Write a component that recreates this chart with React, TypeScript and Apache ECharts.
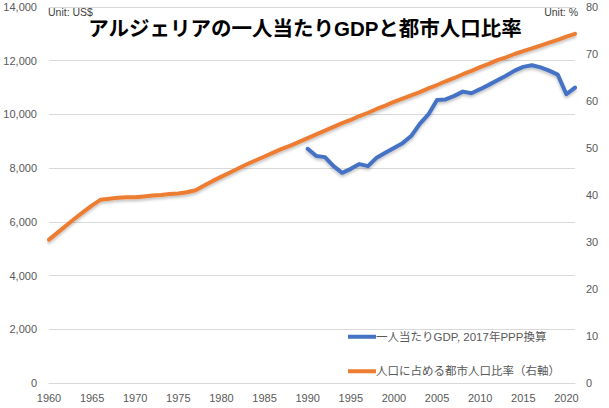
import React, { useEffect, useRef } from "react";
import * as echarts from "echarts";

const years: string[] = [];
for (let y = 1960; y <= 2021; y++) years.push(String(y));

// GDP per capita, PPP (constant 2017 intl $), 1990-2021
const gdpYears = [
  1990, 1991, 1992, 1993, 1994, 1995, 1996, 1997, 1998, 1999, 2000, 2001, 2002, 2003, 2004, 2005,
  2006, 2007, 2008, 2009, 2010, 2011, 2012, 2013, 2014, 2015, 2016, 2017, 2018, 2019, 2020, 2021,
];
const gdpValues = [
  8720, 8450, 8410, 8075, 7825, 7975, 8150, 8075, 8390, 8570, 8750, 8930, 9195, 9650, 10000, 10540,
  10560, 10690, 10850, 10790, 10940, 11100, 11270, 11440, 11630, 11770, 11830, 11750, 11630, 11480, 10750, 11000,
];

// Urban population share (%), 1960-2021
const urbanValues = [
  30.5, 32.0, 33.5, 35.0, 36.4, 37.8, 39.0, 39.2, 39.4, 39.5,
  39.5, 39.7, 39.9, 40.0, 40.2, 40.3, 40.6, 41.0, 42.0, 43.0,
  43.9, 44.8, 45.7, 46.6, 47.4, 48.2, 49.0, 49.8, 50.5, 51.3,
  52.1, 52.9, 53.7, 54.5, 55.3, 56.0, 56.8, 57.5, 58.3, 59.0,
  59.8, 60.5, 61.2, 61.9, 62.7, 63.4, 64.2, 64.9, 65.7, 66.4,
  67.2, 67.9, 68.7, 69.3, 70.0, 70.6, 71.2, 71.8, 72.4, 73.0,
  73.7, 74.3,
];

const titleText = "アルジェリアの一人当たりGDPと都市人口比率";
const gdpName = "一人当たりGDP, 2017年PPP換算";
const urbanName = "人口に占める都市人口比率（右軸）";
const leftUnit = "Unit: US$";
const rightUnit = "Unit: %";

const FONT = "'Liberation Sans', 'Noto Sans CJK JP', sans-serif";

export default function App() {
  const ref = useRef<HTMLDivElement>(null);
  useEffect(() => {
    if (!ref.current) return;
    const chart = echarts.init(ref.current, null, { renderer: "svg" });
    const gdpSeries = years.map((y) => {
      const i = gdpYears.indexOf(Number(y));
      return i >= 0 ? gdpValues[i] : null;
    });
    const lineShadow = {
      shadowColor: "rgba(0,0,0,0.25)",
      shadowBlur: 3,
      shadowOffsetY: 2,
    };
    chart.setOption({
      animation: false,
      textStyle: { fontFamily: FONT },
      grid: { left: 49, right: 34, top: 7, bottom: 25, containLabel: false },
      graphic: [
        {
          type: "text",
          x: 305,
          y: 28,
          style: {
            text: titleText,
            fontSize: 20.5,
            fontWeight: "bold",
            fontFamily: FONT,
            fill: "#000",
            textAlign: "center",
            textVerticalAlign: "middle",
          },
        },
        {
          type: "text",
          x: 48,
          y: 12,
          style: {
            text: leftUnit,
            fontSize: 10.5,
            fontFamily: FONT,
            fill: "#404040",
            textVerticalAlign: "middle",
          },
        },
        {
          type: "text",
          x: 578,
          y: 12,
          style: {
            text: rightUnit,
            fontSize: 10.5,
            fontFamily: FONT,
            fill: "#404040",
            textAlign: "right",
            textVerticalAlign: "middle",
          },
        },
      ],
      legend: {
        orient: "vertical",
        left: 343,
        top: 326,
        itemGap: 23,
        itemWidth: 28,
        itemHeight: 4,
        icon: "rect",
        textStyle: { fontSize: 11.5, color: "#595959", fontFamily: FONT, padding: [0, 0, 0, -5] },
        data: [gdpName, urbanName],
      },
      xAxis: {
        type: "category",
        data: years,
        boundaryGap: false,
        axisTick: { show: false },
        axisLine: { lineStyle: { color: "#d9d9d9" } },
        axisLabel: {
          interval: (index: number) => index % 5 === 0,
          color: "#595959",
          fontSize: 11,
          margin: 9,
          fontFamily: FONT,
        },
      },
      yAxis: [
        {
          type: "value",
          min: 0,
          max: 14000,
          interval: 2000,
          axisLine: { show: false },
          axisTick: { show: false },
          splitLine: { lineStyle: { color: "#d9d9d9" } },
          axisLabel: {
            color: "#595959",
            fontSize: 11,
            margin: 12,
            fontFamily: FONT,
            formatter: (v: number) => v.toLocaleString("en-US"),
          },
        },
        {
          type: "value",
          min: 0,
          max: 80,
          interval: 10,
          axisLine: { show: false },
          axisTick: { show: false },
          splitLine: { show: false },
          axisLabel: { color: "#595959", fontSize: 11, margin: 11, fontFamily: FONT },
        },
      ],
      series: [
        {
          name: gdpName,
          type: "line",
          data: gdpSeries,
          yAxisIndex: 0,
          showSymbol: false,
          symbol: "none",
          connectNulls: false,
          itemStyle: { color: "#4472C4" },
          lineStyle: { color: "#4472C4", width: 4, cap: "round", join: "round", ...lineShadow },
        },
        {
          name: urbanName,
          type: "line",
          data: urbanValues,
          yAxisIndex: 1,
          showSymbol: false,
          symbol: "none",
          itemStyle: { color: "#ED7D31" },
          lineStyle: { color: "#ED7D31", width: 4, cap: "round", join: "round", ...lineShadow },
        },
      ],
    });
    return () => chart.dispose();
  }, []);
  return (
    <div
      ref={ref}
      style={{ position: "fixed", left: 0, top: 0, width: 609, height: 408, background: "#fff" }}
    />
  );
}
